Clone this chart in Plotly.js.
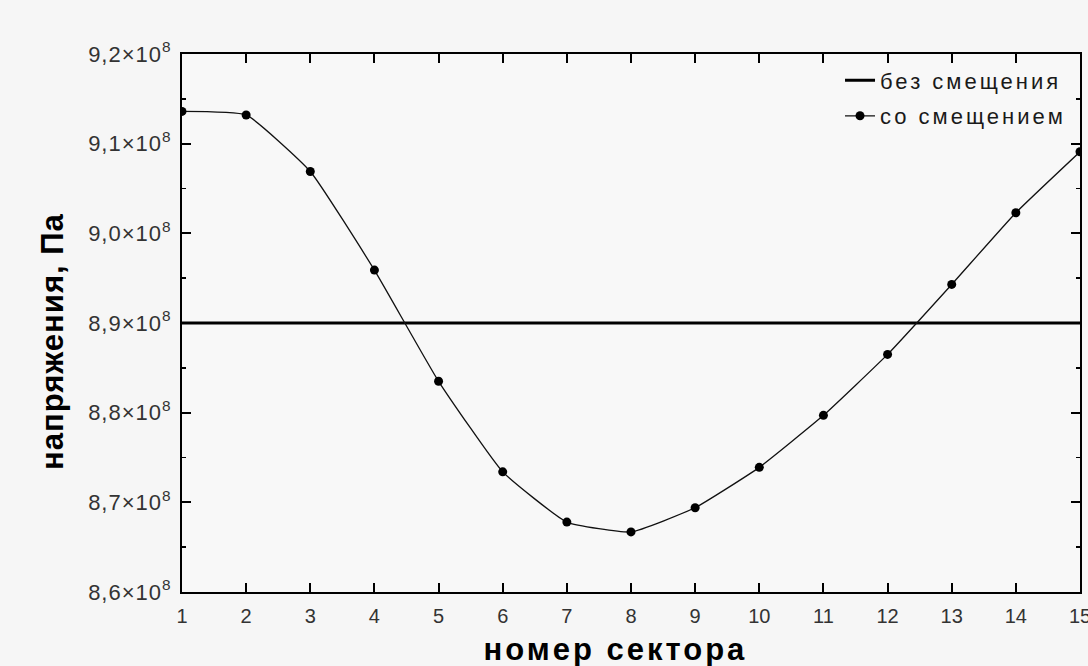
<!DOCTYPE html>
<html>
<head>
<meta charset="utf-8">
<script src="https://cdn.plot.ly/plotly-3.0.1.min.js"></script>
<style>
  html, body { margin: 0; padding: 0; background: #f6f6f6; }
  #chart { width: 1088px; height: 666px; }
  .legendtext { letter-spacing: 3px; }
  .ytick text { letter-spacing: 1px; }
  .annotation[data-index="0"] text { letter-spacing: 3px; }
  .annotation[data-index="1"] text { letter-spacing: 1px; }
</style>
</head>
<body>
<div id="chart"></div>
<script>
// Data
const sectors = [1, 2, 3, 4, 5, 6, 7, 8, 9, 10, 11, 12, 13, 14, 15];
const stressShifted = [9.136e8, 9.132e8, 9.069e8, 8.959e8, 8.835e8, 8.734e8, 8.678e8, 8.667e8,
                       8.694e8, 8.739e8, 8.797e8, 8.865e8, 8.943e8, 9.023e8, 9.091e8];
const baselineX = [1, 15];
const baselineY = [8.9e8, 8.9e8];
const yTickVals = [8.6e8, 8.7e8, 8.8e8, 8.9e8, 9.0e8, 9.1e8, 9.2e8];
const yTickMant = ["8,6", "8,7", "8,8", "8,9", "9,0", "9,1", "9,2"];
const xTickVals = sectors;
const seriesNames = ["без смещения", "со смещением"];
const xTitle = "номер сектора";
const yTitle = "напряжения, Па";

const yTickText = yTickMant.map(m => m + "×10<sup>8</sup>");
const titleFont = { size: 31, color: "#000", family: "Liberation Sans, Arial, sans-serif", weight: "bold" };

const traces = [
  {
    x: baselineX, y: baselineY, name: seriesNames[0], legendgroup: "g1",
    mode: "lines", type: "scatter",
    line: { color: "#000", width: 3 }
  },
  {
    x: sectors, y: stressShifted, name: seriesNames[1], legendgroup: "g2",
    mode: "lines+markers", type: "scatter",
    line: { color: "#111", width: 1.3, shape: "spline", smoothing: 0.4 },
    marker: { color: "#000", size: 9 },
    cliponaxis: true
  }
];

const layout = {
  width: 1088, height: 666,
  paper_bgcolor: "#f6f6f6", plot_bgcolor: "#f8f8f8",
  margin: { l: 182, r: 8, t: 54, b: 74 },
  font: { family: "Liberation Sans, Arial, sans-serif", color: "#222" },
  showlegend: true,
  legend: {
    x: 0.99, xanchor: "right", y: 0.99, yanchor: "top",
    bgcolor: "rgba(0,0,0,0)", borderwidth: 0,
    font: { size: 22, color: "#1a1a1a" },
    tracegroupgap: 4
  },
  xaxis: {
    range: [1, 15], tickvals: xTickVals, ticktext: xTickVals.map(String),
    ticks: "inside", ticklen: 9, tickwidth: 2, tickcolor: "#000",
    showline: true, linecolor: "#000", linewidth: 2, mirror: "ticks",
    showgrid: false, zeroline: false,
    tickfont: { size: 20, color: "#333" },
    ticklabelstandoff: 5,
    ticklabeloverflow: "allow",
    automargin: false
  },
  yaxis: {
    range: [8.6e8, 9.2e8], tickvals: yTickVals, ticktext: yTickText,
    ticks: "inside", ticklen: 9, tickwidth: 2, tickcolor: "#000",
    minor: { dtick: 0.05e8, ticks: "inside", ticklen: 4, tickwidth: 1.5, tickcolor: "#000" },
    showline: true, linecolor: "#000", linewidth: 2, mirror: "ticks",
    showgrid: false, zeroline: false,
    tickfont: { size: 22, color: "#333" },
    ticklabelstandoff: 4,
    automargin: false
  },
  annotations: [
    {
      text: xTitle, xref: "paper", yref: "paper",
      x: (616 - 182) / 898, y: -(649 - 592) / 538, xanchor: "center", yanchor: "middle",
      showarrow: false, font: titleFont
    },
    {
      text: yTitle, xref: "paper", yref: "paper", textangle: -90,
      x: (52 - 182) / 898, y: (592 - 342) / 538, xanchor: "center", yanchor: "middle",
      showarrow: false, font: titleFont
    }
  ]
};

Plotly.newPlot("chart", traces, layout, { displayModeBar: false, staticPlot: true });
</script>
</body>
</html>
